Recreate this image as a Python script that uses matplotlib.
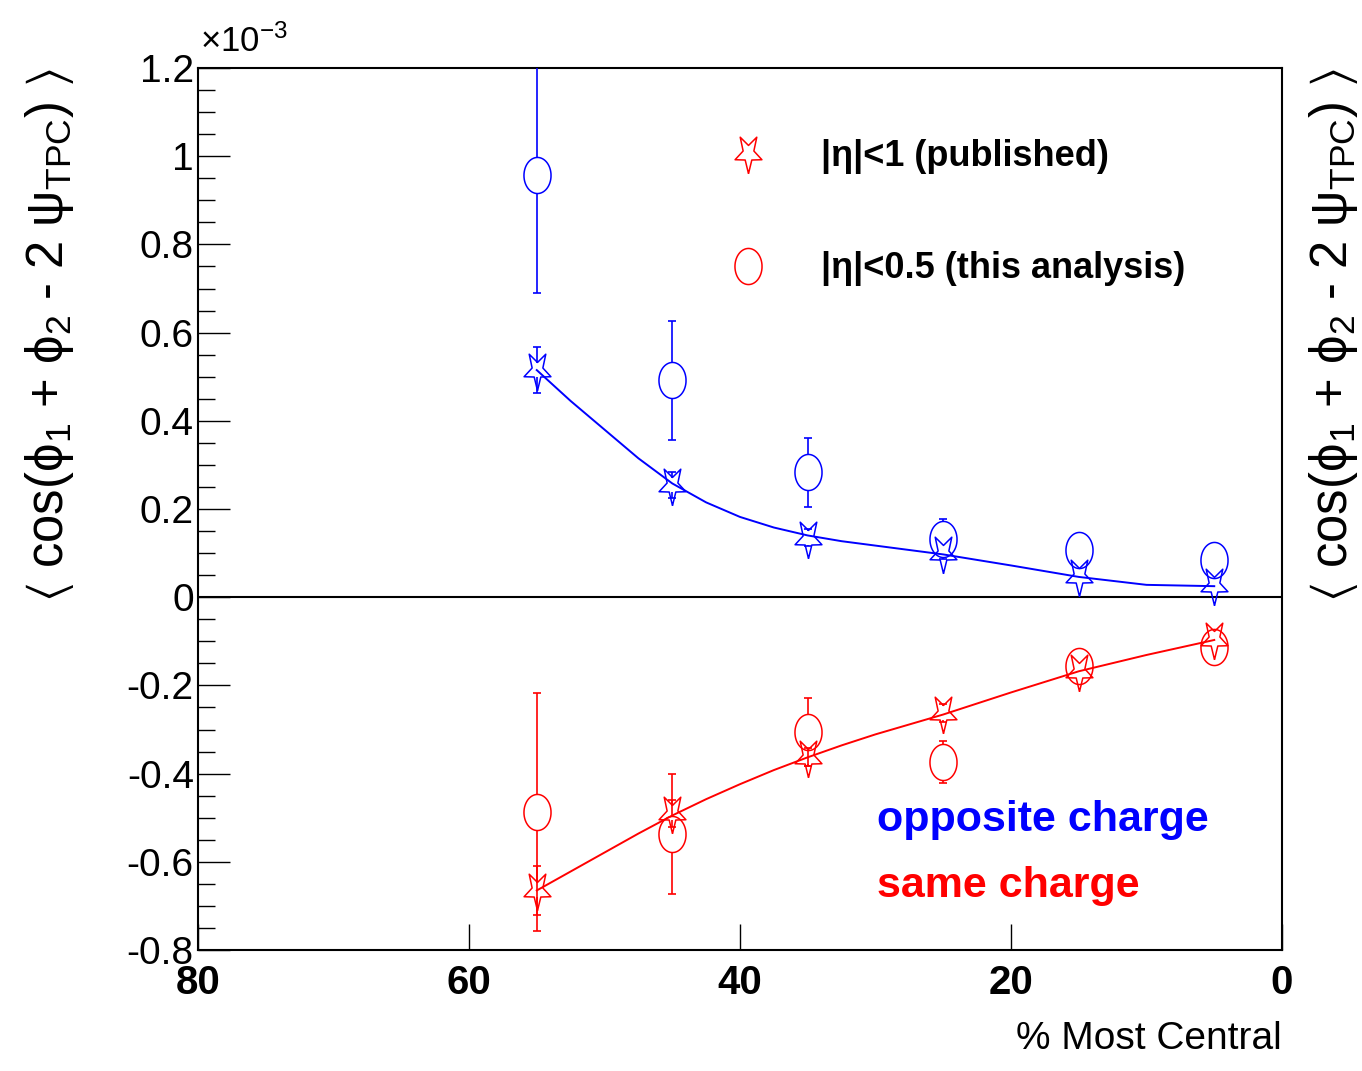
import numpy as np
import matplotlib.pyplot as plt
from matplotlib.lines import Line2D

plt.rcParams['mathtext.fontset'] = 'custom'
plt.rcParams['mathtext.rm'] = 'Liberation Sans'
plt.rcParams['mathtext.it'] = 'Liberation Sans:italic'
plt.rcParams['mathtext.bf'] = 'Liberation Sans:bold'
plt.rcParams['mathtext.fallback'] = 'stix'

SANS = ['Liberation Sans', 'DejaVu Sans']

# centrality bins (% most central)
centrality = [55, 45, 35, 25, 15, 5]

# |eta|<1 published (stars), units of 1e-3
pub_opp = [0.515, 0.255, 0.135, 0.10, 0.047, 0.027]
pub_opp_err = [0.052, 0.03, 0.02, 0.015, 0.015, 0.015]
pub_same = [-0.665, -0.49, -0.362, -0.262, -0.168, -0.095]
pub_same_err = [0.055, 0.03, 0.02, 0.02, 0.015, 0.015]

# |eta|<0.5 this analysis (circles)
ana_opp = [0.957, 0.492, 0.283, 0.132, 0.106, 0.084]
ana_opp_err = [0.267, 0.135, 0.078, 0.045, 0.03, 0.03]
ana_same = [-0.487, -0.537, -0.306, -0.374, -0.156, -0.112]
ana_same_err = [0.27, 0.136, 0.077, 0.047, 0.03, 0.03]

# smooth curves through the published points
fit_x = [55, 52.5, 50, 47.5, 45, 42.5, 40, 37.5, 35, 32.5, 30, 25, 20, 15, 10, 5]
fit_opp = [0.515, 0.445, 0.38, 0.315, 0.258, 0.215, 0.182, 0.158, 0.14, 0.127, 0.117,
           0.097, 0.072, 0.046, 0.028, 0.025]
fit_same = [-0.665, -0.622, -0.579, -0.536, -0.495, -0.458, -0.424, -0.392, -0.363, -0.336, -0.311,
            -0.266, -0.216, -0.168, -0.131, -0.097]

# open markers (vertically stretched, like the original)
t = np.linspace(0, 2 * np.pi, 61)
ellipse = np.column_stack([0.75 * np.cos(t), np.sin(t)])
ang = np.radians(-90 + 36 * np.arange(10))
r = np.where(np.arange(10) % 2 == 0, 1.0, 0.4)
star = np.column_stack([0.7 * r * np.cos(ang), r * np.sin(ang)])
star = np.vstack([star, star[:1]])

fig = plt.figure(figsize=(13.62, 10.71), dpi=100)
ax = fig.add_axes([198 / 1362, 1 - 950 / 1071, 1084 / 1362, 882 / 1071])
ax.set_xlim(80, 0)
ax.set_ylim(-0.8, 1.2)

PX_PER_UNIT = 882 / 2.0


def draw_errors(x, y, err, color, gap_px):
    gap = gap_px / PX_PER_UNIT
    for xi, yi, ei in zip(x, y, err):
        if ei > gap:
            ax.vlines([xi, xi], [yi + gap, yi - ei], [yi + ei, yi - gap], color=color, lw=1.2, zorder=3)
            ax.hlines([yi - ei, yi + ei], xi - 0.3, xi + 0.3, color=color, lw=1.2, zorder=3)


ax.axhline(0, color='black', lw=1.5, zorder=1)

ax.plot(fit_x, fit_opp, color='blue', lw=1.4, zorder=2)
ax.plot(fit_x, fit_same, color='red', lw=1.4, zorder=2)

for vals, errs, col in [(pub_opp, pub_opp_err, 'blue'), (pub_same, pub_same_err, 'red')]:
    draw_errors(centrality, vals, errs, col, 7)
    ax.plot(centrality, vals, ls='none', marker=star, ms=29, mfc='none', mec=col, mew=1.1, zorder=4)

for vals, errs, col in [(ana_opp, ana_opp_err, 'blue'), (ana_same, ana_same_err, 'red')]:
    draw_errors(centrality, vals, errs, col, 18)
    ax.plot(centrality, vals, ls='none', marker=ellipse, ms=26, mfc='none', mec=col, mew=1.1, zorder=4)

# axes styling
for s in ax.spines.values():
    s.set_linewidth(1.5)
ax.set_yticks(np.arange(-0.8, 1.21, 0.2))
ax.set_yticks(np.arange(-0.8, 1.21, 0.05), minor=True)
ax.set_yticklabels(['-0.8', '-0.6', '-0.4', '-0.2', '0', '0.2', '0.4', '0.6', '0.8', '1', '1.2'],
                   fontsize=28, family=SANS)
ax.set_xticks([80, 60, 40, 20, 0])
ax.set_xticklabels(['80', '60', '40', '20', '0'], fontsize=29, family=SANS, fontweight='bold')
ax.tick_params(axis='y', which='major', direction='in', length=23, width=1, pad=3)
ax.tick_params(axis='y', which='minor', direction='in', length=12, width=1)
ax.tick_params(axis='x', which='major', direction='in', length=19, width=1, pad=10)
ax.tick_params(axis='x', which='minor', length=0)

ax.text(0.002, 1.01, r'$\times$10$^{-3}$', transform=ax.transAxes, ha='left', va='bottom',
        fontsize=25, family=SANS)

ax.set_xlabel('% Most Central', fontsize=28, family=SANS, loc='right', labelpad=14)

ylab = r'$\langle$ cos($\mathrm{\phi}_{1}$ + $\mathrm{\phi}_{2}$ - 2 $\mathrm{\psi}_{\mathrm{TPC}}$) $\rangle$'
fig.text(50 / 1362, 1 - 68 / 1071, ylab, rotation=90, ha='center', va='top', fontsize=36.5, family=SANS)
fig.text(1333 / 1362, 1 - 68 / 1071, ylab, rotation=90, ha='center', va='top', fontsize=36.5, family=SANS)

handles = [
    Line2D([], [], ls='none', marker=star, ms=29, mfc='none', mec='red', mew=1.1),
    Line2D([], [], ls='none', marker=ellipse, ms=26, mfc='none', mec='red', mew=1.1),
]
ax.legend(handles, ['|η|<1 (published)', '|η|<0.5 (this analysis)'],
          loc='upper left', bbox_to_anchor=(0.491, 0.92), frameon=False,
          borderpad=0, borderaxespad=0, handlelength=1.0, handletextpad=1.5,
          labelspacing=2.15, prop={'family': SANS, 'weight': 'bold', 'size': 26})

ax.text(0.626, 0.147, 'opposite charge', transform=ax.transAxes, color='blue', fontsize=31,
        fontweight='bold', family=SANS, ha='left', va='center')
ax.text(0.626, 0.073, 'same charge', transform=ax.transAxes, color='red', fontsize=31,
        fontweight='bold', family=SANS, ha='left', va='center')

fig.savefig('out.png', dpi=100)
